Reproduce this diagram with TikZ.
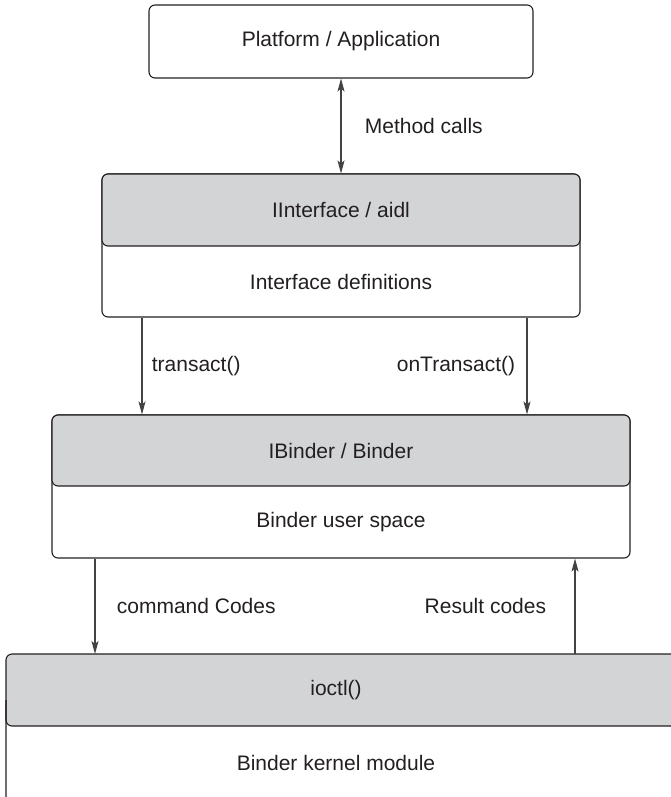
\documentclass[tikz,border=0pt]{standalone}
\usepackage{fontspec}
\setmainfont{Liberation Sans}
\usetikzlibrary{positioning, arrows.meta, calc}
\definecolor{headgray}{HTML}{D3D4D6}
\definecolor{inkgray}{HTML}{231F20}
\tikzset{
	layerbox/.style={draw=inkgray, line width=1.1pt, rounded corners=6pt, fill=white, inner sep=0pt}
}
\tikzset{
	headbox/.style={layerbox, fill=headgray}
}
\tikzset{
	edgeline/.style={draw=inkgray, line width=1.1pt, rounded corners=6pt}
}
\tikzset{
	flowtext/.style={font=\fontsize{21}{25}\selectfont, text=inkgray}
}
\tikzset{
	>={Stealth[length=13pt, width=7pt, inset=3pt]},
	flow/.style={draw=inkgray!85, line width=1.1pt, ->}
}

\begin{document}
\begin{tikzpicture}[x=1pt, y=-1pt]

			\path[use as bounding box] (0,0) rectangle (670,797);

			\begin{scope}
				\node[layerbox, flowtext, minimum width=384pt, minimum height=73pt] (app) at (341,41.5) {Platform / Application};
			\end{scope}

			\begin{scope}
				\node[layerbox, minimum width=478pt, minimum height=143pt] (iface) at (341,245.5) {};
				\node[headbox, flowtext, minimum width=478pt, minimum height=72pt, anchor=north] (ifacehead) at (iface.north) {IInterface / aidl};
				\node[flowtext] (ifacebody) at ($(ifacehead.south)!0.5!(iface.south)$) {Interface definitions};
			\end{scope}

			\begin{scope}
				\node[layerbox, minimum width=578pt, minimum height=143pt] (binder) at (341,486.5) {};
				\node[headbox, flowtext, minimum width=578pt, minimum height=71pt, anchor=north] (binderhead) at (binder.north) {IBinder / Binder};
				\node[flowtext] (binderbody) at ($(binderhead.south)!0.5!(binder.south)$) {Binder user space};
			\end{scope}

			\begin{scope}
				% kernel layer runs off the right and bottom edges
				\coordinate (kernel) at (6,654);
				\coordinate (kernelsplit) at (6,726);
				\fill[headgray, rounded corners=6pt] (690,654) -- (kernel) -- (kernelsplit) -- (690,726) -- cycle;
				\draw[edgeline] (690,654) -- (kernel) -- (6,820);
				\draw[edgeline] (6,700) -- (kernelsplit) -- (690,726);
				\node[flowtext] (ioctltext) at (336,690) {ioctl()};
				\node[flowtext] (kernelbody) at (336,763) {Binder kernel module};
			\end{scope}

			\draw[flow, <->] (app.south) -- (ifacehead.north) node[midway, right=20pt, flowtext] (callslbl) {Method calls};

			\draw[flow] ([xshift=-199pt]iface.south) -- ([xshift=-199pt]iface.south |- binderhead.north) node[midway, right=6pt, flowtext] (transactlbl) {transact()};
			\draw[flow] ([xshift=186pt]iface.south) -- ([xshift=186pt]iface.south |- binderhead.north) node[midway, left=8pt, flowtext] (ontransactlbl) {onTransact()};

			\draw[flow] ([xshift=-246pt]binder.south) -- ([xshift=-246pt]binder.south |- kernel) node[midway, right=18pt, flowtext] (cmdlbl) {command Codes};
			\draw[flow] ([xshift=234pt]binder.south |- kernel) -- ([xshift=234pt]binder.south) node[midway, left=25pt, flowtext] (resultlbl) {Result codes};

\end{tikzpicture}
\end{document}
